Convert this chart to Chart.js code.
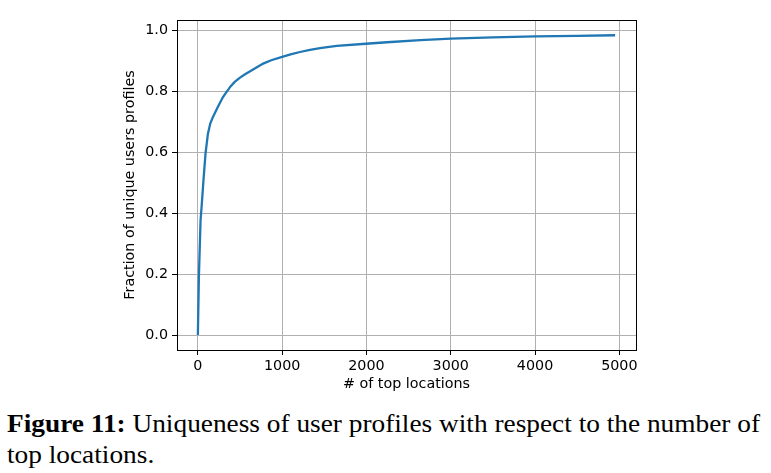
<!DOCTYPE html>
<html>
<head>
<meta charset="utf-8">
<script src="https://cdn.jsdelivr.net/npm/chart.js@4/dist/chart.umd.min.js"></script>
<style>
  html, body { margin: 0; padding: 0; background: #fff; width: 771px; height: 473px; overflow: hidden; }
  #wrap { position: relative; width: 771px; height: 473px; }
  #c { position: absolute; left: 0; top: 0; }
  #cap { position: absolute; left: 7px; top: 407.5px; font-family: "Liberation Serif", "Times New Roman", serif;
         font-size: 25px; line-height: 31.5px; color: #000; white-space: nowrap; transform-origin: 0 0; }
  #cap b { font-weight: bold; }
</style>
</head>
<body>
<div id="wrap">
  <canvas id="c" width="771" height="400"></canvas>
  <div id="cap"><span id="l1"><b>Figure 11:</b> Uniqueness of user profiles with respect to the number of</span><br><span>top locations.</span></div>
</div>
<script>
// Data
const topLocations = [0, 12, 32, 44, 67, 91, 119, 147, 179, 238, 298, 345, 390, 437, 500, 560, 615, 700, 775, 870, 1000, 1100, 1211, 1330, 1449, 1647, 1993, 2243, 2639, 3000, 3500, 4000, 4500, 4950];
const uniqueFraction = [0, 0.19, 0.377, 0.42, 0.51, 0.596, 0.66, 0.694, 0.716, 0.749, 0.781, 0.800, 0.817, 0.831, 0.845, 0.856, 0.865, 0.879, 0.891, 0.902, 0.913, 0.921, 0.929, 0.936, 0.942, 0.949, 0.956, 0.961, 0.968, 0.973, 0.977, 0.980, 0.982, 0.984];
const xTicks = [0, 1000, 2000, 3000, 4000, 5000];
const yTicks = [0.0, 0.2, 0.4, 0.6, 0.8, 1.0];
const xTitle = '# of top locations';
const yTitle = 'Fraction of unique users profiles';

const points = topLocations.map((x, i) => ({ x: x, y: uniqueFraction[i] }));
const tickFont = { family: 'DejaVu Sans', size: 14.3 };

const framePlugin = {
  id: 'frame',
  afterDatasetsDraw(chart) {
    const { ctx, chartArea: a } = chart;
    ctx.save();
    ctx.strokeStyle = '#000';
    ctx.lineWidth = 1;
    ctx.strokeRect(Math.round(a.left) + 0.5, Math.round(a.top) + 0.5, Math.round(a.right - a.left), Math.round(a.bottom - a.top));
    ctx.restore();
  }
};

new Chart(document.getElementById('c'), {
  type: 'line',
  data: {
    datasets: [{
      data: points,
      borderColor: '#1f77b4',
      borderWidth: 2.3,
      pointRadius: 0,
      tension: 0,
      fill: false
    }]
  },
  options: {
    responsive: false,
    animation: false,
    devicePixelRatio: 1,
    layout: { padding: { top: 20, right: 135, left: 0, bottom: 0 } },
    plugins: { legend: { display: false }, tooltip: { enabled: false } },
    scales: {
      x: {
        type: 'linear',
        min: -247.5,
        max: 5197.5,
        afterBuildTicks(s) { s.ticks = xTicks.map(v => ({ value: v })); },
        afterFit(s) { s.height = 50; },
        border: { display: false },
        grid: { color: '#b0b0b0', lineWidth: 1, tickLength: 5, tickColor: '#000', tickWidth: 1 },
        ticks: { font: tickFont, color: '#000', padding: 3, maxRotation: 0, callback: v => String(v) },
        title: { display: true, text: xTitle, font: tickFont, color: '#000', padding: { top: 0, bottom: 7.6 } }
      },
      y: {
        type: 'linear',
        min: -0.049,
        max: 1.034,
        afterBuildTicks(s) { s.ticks = yTicks.map(v => ({ value: v })); },
        afterFit(s) { s.width = 177; },
        border: { display: false },
        grid: { color: '#b0b0b0', lineWidth: 1, tickLength: 5, tickColor: '#000', tickWidth: 1 },
        ticks: { font: tickFont, color: '#000', padding: 4, callback: v => v.toFixed(1) },
        title: { display: true, text: yTitle, font: tickFont, color: '#000', padding: { top: 121.4, bottom: 0 } }
      }
    }
  },
  plugins: [framePlugin]
});

// fit caption line to the reference width
const l1 = document.getElementById('l1');
const w = l1.getBoundingClientRect().width;
const target = 753;
document.getElementById('cap').style.transform = 'scaleX(' + (target / w) + ')';
</script>
</body>
</html>
